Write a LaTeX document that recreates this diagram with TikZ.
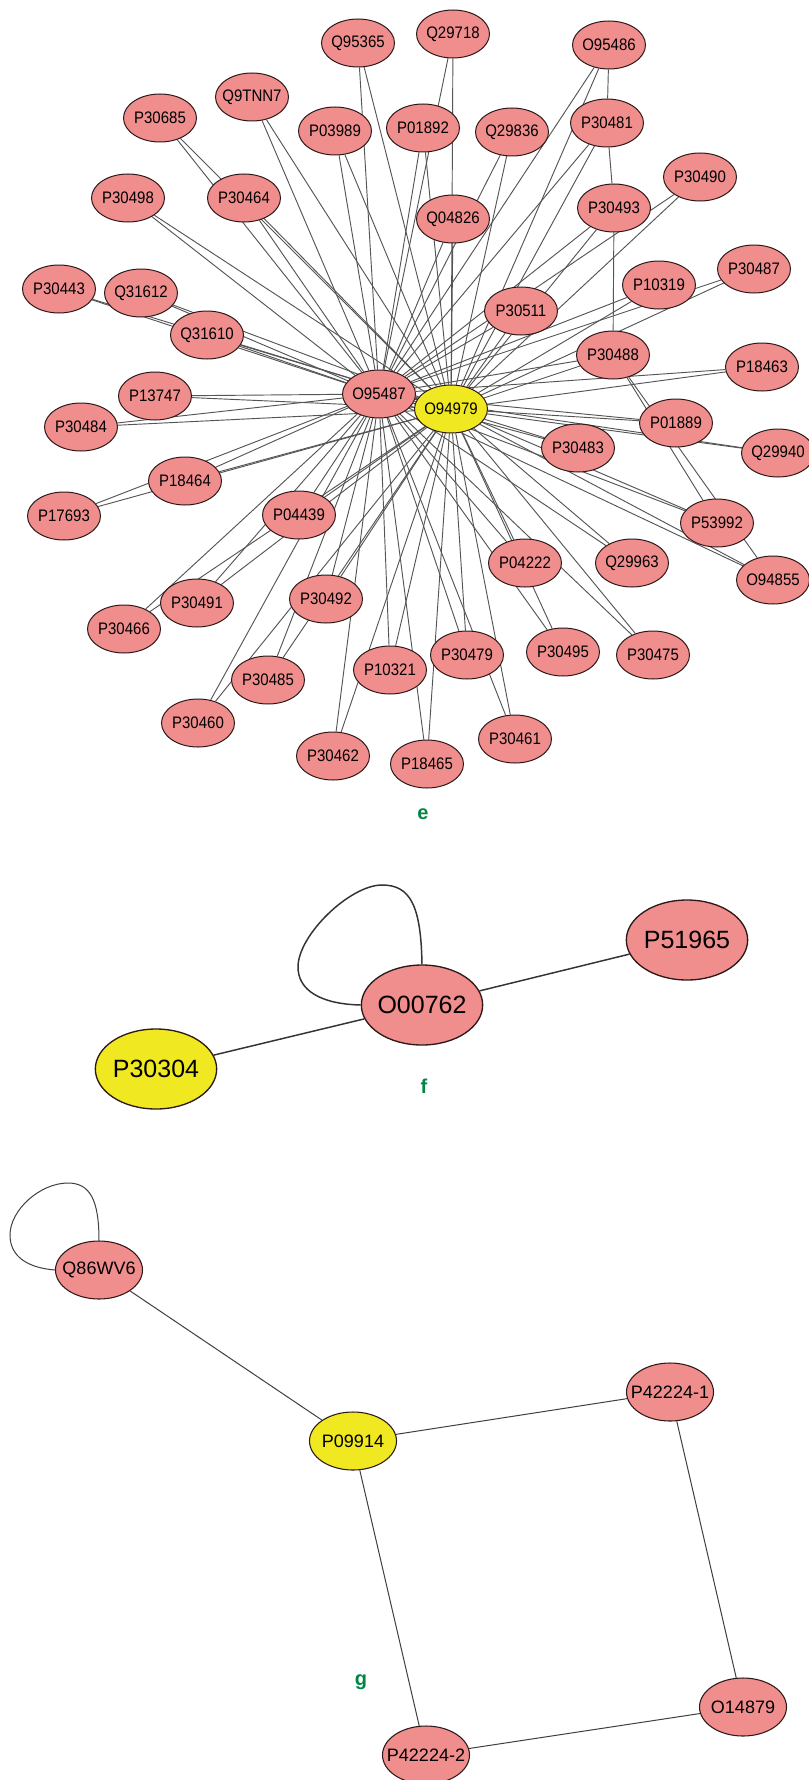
\documentclass[tikz,border=0pt]{standalone}
\usepackage{fontspec}
\setmainfont{Liberation Sans}
\usetikzlibrary{shapes.geometric,backgrounds}
\definecolor{pinkfill}{RGB}{240,141,141}
\definecolor{yelfill}{RGB}{240,232,32}
\definecolor{nodeline}{RGB}{45,25,25}
\definecolor{edgegray}{RGB}{85,85,85}
\definecolor{lblgreen}{RGB}{0,135,70}
\newcommand{\elab}[1]{\makebox[0pt][c]{\scalebox{0.9}[1]{#1}}}
\newcommand{\flab}[1]{\makebox[0pt][c]{#1}}
\tikzset{
  enode/.style={ellipse, draw=nodeline, line width=0.75pt, fill=pinkfill, inner sep=0pt,
    minimum width=54.75pt, minimum height=36pt, font=\fontsize{12.5pt}{12.5pt}\selectfont},
  ehub/.style={enode, fill=yelfill},
  fnode/.style={ellipse, draw=nodeline, line width=1pt, fill=pinkfill, inner sep=0pt,
    minimum width=91pt, minimum height=60pt, font=\fontsize{18.75pt}{18.75pt}\selectfont},
  fhub/.style={fnode, fill=yelfill},
  gnode/.style={ellipse, draw=nodeline, line width=0.8pt, fill=pinkfill, inner sep=0pt,
    minimum width=65.25pt, minimum height=43.5pt, font=\fontsize{13.5pt}{13.5pt}\selectfont},
  ghub/.style={gnode, fill=yelfill},
  eedge/.style={draw=edgegray, line width=0.7pt},
  fedge/.style={draw=black!80, line width=1.1pt},
  gedge/.style={draw=black!75, line width=0.75pt},
  panel/.style={text=lblgreen, font=\fontsize{15pt}{15pt}\selectfont\bfseries}
}
\begin{document}
\begin{tikzpicture}[x=0.75pt,y=-0.75pt]
\useasboundingbox (0,0) rectangle (808,1780);
\begin{scope}[on background layer]
\fill[white] (0,0) rectangle (808,1780);
\end{scope}
% ---------------- panel e ----------------
\node[enode] (Q95365) at (358,43) {\elab{Q95365}};
\node[enode] (Q29718) at (453,34) {\elab{Q29718}};
\node[enode] (O95486) at (609,45) {\elab{O95486}};
\node[enode] (Q9TNN7) at (252,97) {\elab{Q9TNN7}};
\node[enode] (P30685) at (160,118) {\elab{P30685}};
\node[enode] (P03989) at (335,131) {\elab{P03989}};
\node[enode] (P01892) at (423,128) {\elab{P01892}};
\node[enode] (Q29836) at (512,132) {\elab{Q29836}};
\node[enode] (P30481) at (607,123) {\elab{P30481}};
\node[enode] (P30490) at (700,177) {\elab{P30490}};
\node[enode] (P30498) at (128,198) {\elab{P30498}};
\node[enode] (P30464) at (244,198) {\elab{P30464}};
\node[enode] (P30493) at (614,208) {\elab{P30493}};
\node[enode] (Q04826) at (453,219) {\elab{Q04826}};
\node[enode] (P30487) at (754,269) {\elab{P30487}};
\node[enode] (P10319) at (659,285) {\elab{P10319}};
\node[enode] (P30443) at (59,289) {\elab{P30443}};
\node[enode] (Q31612) at (141,293) {\elab{Q31612}};
\node[enode] (P30511) at (521,311) {\elab{P30511}};
\node[enode] (Q31610) at (207,335) {\elab{Q31610}};
\node[enode] (P30488) at (613,355) {\elab{P30488}};
\node[enode] (P18463) at (762,367) {\elab{P18463}};
\node[enode] (O95487) at (379,394) {\elab{O95487}};
\node[enode] (P13747) at (155,396) {\elab{P13747}};
\node[ehub]  (O94979) at (451,409) {\elab{O94979}};
\node[enode] (P01889) at (676,423) {\elab{P01889}};
\node[enode] (P30484) at (81,427) {\elab{P30484}};
\node[enode] (P30483) at (578,448) {\elab{P30483}};
\node[enode] (Q29940) at (778,453) {\elab{Q29940}};
\node[enode] (P18464) at (185,481) {\elab{P18464}};
\node[enode] (P17693) at (64,516) {\elab{P17693}};
\node[enode] (P04439) at (299,515) {\elab{P04439}};
\node[enode] (P53992) at (717,523) {\elab{P53992}};
\node[enode] (P04222) at (525,563) {\elab{P04222}};
\node[enode] (Q29963) at (632,563) {\elab{Q29963}};
\node[enode] (O94855) at (773,580) {\elab{O94855}};
\node[enode] (P30492) at (326,599) {\elab{P30492}};
\node[enode] (P30491) at (197,603) {\elab{P30491}};
\node[enode] (P30466) at (124,629) {\elab{P30466}};
\node[enode] (P30495) at (563,652) {\elab{P30495}};
\node[enode] (P30479) at (467,655) {\elab{P30479}};
\node[enode] (P30475) at (653,655) {\elab{P30475}};
\node[enode] (P10321) at (390,670) {\elab{P10321}};
\node[enode] (P30485) at (268,680) {\elab{P30485}};
\node[enode] (P30460) at (198,723) {\elab{P30460}};
\node[enode] (P30461) at (515,739) {\elab{P30461}};
\node[enode] (P30462) at (333,756) {\elab{P30462}};
\node[enode] (P18465) at (427,764) {\elab{P18465}};
\node[panel] (labe) at (423,814) {e};
\begin{scope}[on background layer]
\foreach \n in {Q95365,Q29718,O95486,Q9TNN7,P30685,P03989,P01892,Q29836,P30481,
  P30490,P30498,P30464,P30493,Q04826,P30487,P10319,P30443,Q31612,P30511,Q31610,
  P30488,P18463,P13747,P01889,P30484,P30483,Q29940,P18464,P17693,P04439,P53992,
  P04222,Q29963,O94855,P30492,P30491,P30466,P30495,P30479,P30475,P10321,P30485,
  P30460,P30461,P30462,P18465}{
  \draw[eedge] (\n) -- (O95487);
  \draw[eedge] (\n) -- (O94979);
}
\draw[eedge] (O95487) -- (O94979);
\draw[eedge] (O95486) -- (P30481);
\draw[eedge] (P30481) -- (P30493);
\draw[eedge] (P30493) -- (P30488);
\draw[eedge] (P30488) -- (P53992);
\draw[eedge] (P30488) -- (O94855);
\end{scope}
% ---------------- panel f ----------------
\node[fnode] (P51965) at (687,940) {\flab{P51965}};
\node[fnode] (O00762) at (422,1005) {\flab{O00762}};
\node[fhub]  (P30304) at (156,1069) {\flab{P30304}};
\node[panel] (labf) at (424,1086) {f};
\begin{scope}[on background layer]
\draw[fedge] (O00762) -- (P51965);
\draw[fedge] (P30304) -- (O00762);
\draw[fedge] (O00762.north) .. controls (421,905) and (410,885) .. (382,885)
  .. controls (350,885) and (298,935) .. (298,967)
  .. controls (298,990) and (320,1004) .. (O00762.west);
\end{scope}
% ---------------- panel g ----------------
\node[gnode] (Q86WV6) at (99,1270) {\flab{Q86WV6}};
\node[ghub]  (P09914) at (353,1441) {\flab{P09914}};
\node[gnode] (P42224-1) at (670,1392) {\flab{P42224-1}};
\node[gnode] (O14879) at (743,1707) {\flab{O14879}};
\node[gnode] (P42224-2) at (426,1755) {\flab{P42224-2}};
\node[panel] (labg) at (361,1682) {g};
\begin{scope}[on background layer]
\draw[gedge] (Q86WV6) -- (P09914);
\draw[gedge] (P09914) -- (P42224-1);
\draw[gedge] (P09914) -- (P42224-2);
\draw[gedge] (P42224-1) -- (O14879);
\draw[gedge] (O14879) -- (P42224-2);
\draw[gedge] (Q86WV6.north) .. controls (99,1200) and (90,1183) .. (68,1183)
  .. controls (40,1183) and (10,1210) .. (10,1235)
  .. controls (10,1258) and (30,1268) .. (Q86WV6.west);
\end{scope}
\end{tikzpicture}
\end{document}
